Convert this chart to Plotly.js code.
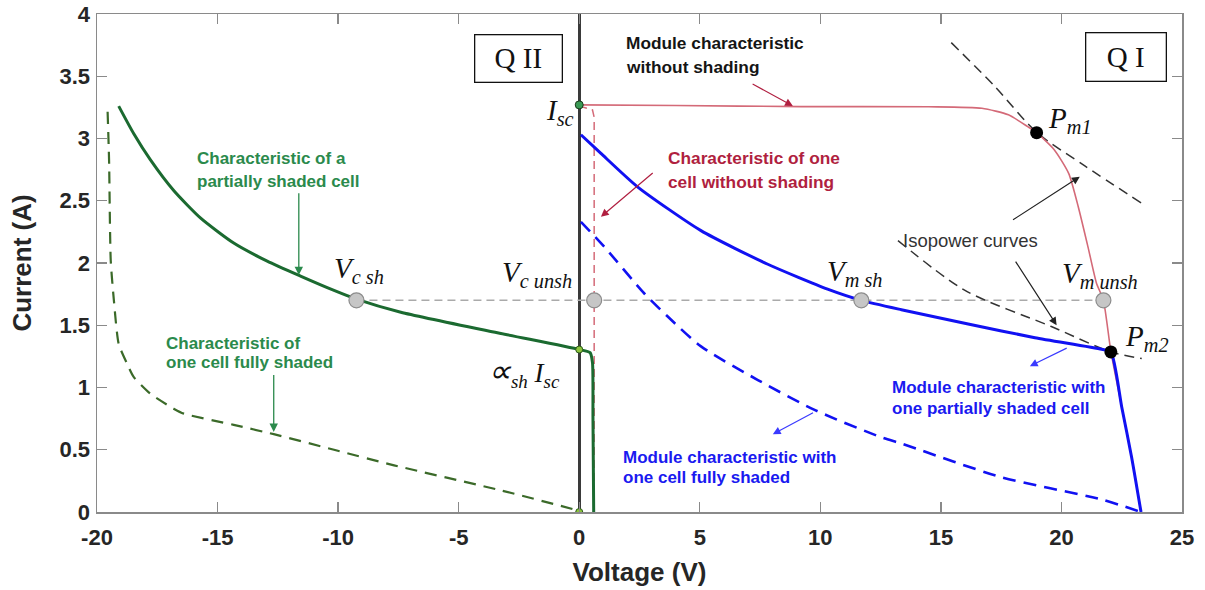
<!DOCTYPE html>
<html><head><meta charset="utf-8">
<script src="https://cdn.plot.ly/plotly-3.0.1.min.js"></script>
<style>html,body{margin:0;padding:0;background:#fff}#chart{width:1205px;height:590px}</style>
</head><body><div id="chart"></div>
<script>
// ---- tick labels ----
const xTickVals = [-20, -15, -10, -5, 0, 5, 10, 15, 20, 25];
const xTickText = ['-20', '-15', '-10', '-5', '0', '5', '10', '15', '20', '25'];
const yTickVals = [0, 0.5, 1, 1.5, 2, 2.5, 3, 3.5, 4];
const yTickText = ['0', '0.5', '1', '1.5', '2', '2.5', '3', '3.5', '4'];

// ---- module characteristic without shading (red) ----
const moduleUnshadedV = [0, 4, 9.2, 14.5, 16.7, 17.8, 18.6, 18.97, 19.7, 20.3, 20.7, 21.1, 21.45, 21.74, 22.05, 22.5, 22.91, 23.3];
const moduleUnshadedI = [3.27, 3.265, 3.256, 3.255, 3.243, 3.19, 3.095, 3.047, 2.91, 2.72, 2.45, 2.13, 1.84, 1.70, 1.29, 0.844, 0.44, 0];

// ---- one cell without shading (red dashed) ----
const cellUnshadedV = [0, 0.55, 0.62, 0.62];
const cellUnshadedI = [3.26, 3.23, 3.17, 0];

// ---- partially shaded cell (green solid) ----
const cellPartialV = [-19.1, -18.48, -17.79, -16.81, -15.7, -14.33, -12.94, -11.56, -10.17, -9.24, -7.4, -3.25, 0, 0.45, 0.55, 0.57, 0.6];
const cellPartialI = [3.26, 3.04, 2.83, 2.58, 2.36, 2.16, 2.015, 1.895, 1.78, 1.71, 1.605, 1.434, 1.305, 1.28, 1.2, 0.76, 0];

// ---- fully shaded cell (green dashed) ----
const cellFullV = [-19.56, -19.5, -19.43, -19.3, -19.1, -18.75, -18.48, -17.79, -16.82, -16.4, -14.33, -12.67, -10.17, -7.68, -3.25, 0];
const cellFullI = [3.215, 2.83, 2.02, 1.70, 1.35, 1.19, 1.085, 0.95, 0.83, 0.79, 0.70, 0.625, 0.50, 0.375, 0.174, 0.01];

// ---- module with one partially shaded cell (blue solid) ----
const modulePartialV = [0.07, 0.9, 2.43, 5.05, 7.82, 10.3, 11.7, 13.36, 16.13, 18.9, 21.67, 22.05, 22.5, 22.91, 23.3];
const modulePartialI = [3.03, 2.88, 2.61, 2.26, 1.99, 1.79, 1.70, 1.625, 1.51, 1.40, 1.307, 1.286, 0.844, 0.44, 0];

// ---- module with one cell fully shaded (blue dashed) ----
const moduleFullV = [0.07, 1.04, 2.7, 3.67, 5.05, 7.41, 9.76, 12.53, 13.36, 17.5, 21.67, 23.3];
const moduleFullI = [2.33, 2.13, 1.755, 1.57, 1.33, 1.06, 0.82, 0.60, 0.55, 0.28, 0.10, 0];

// ---- isopower curves (black dashed) ----
const isoHighV = [15.43, 17.23, 18.97, 20.97, 23.33];
const isoHighI = [3.77, 3.42, 3.05, 2.78, 2.48];
const isoLowV = [13.22, 16.0, 19.58, 22.05, 23.33];
const isoLowI = [2.18, 1.78, 1.49, 1.286, 1.233];

// ---- reference voltages at I = 1.7 A ----
const refV = [-9.24, 0.62, 11.7, 21.74];
const refI = [1.70, 1.70, 1.70, 1.70];

// ---- special points ----
const maxPowerV = [18.97, 22.05];
const maxPowerI = [3.047, 1.286];
const iscV = [0];
const iscI = [3.27];
const cellPointV = [0, 0];
const cellPointI = [1.305, 0];

const RED = '#d46a78', REDTXT = '#b01f40';
const GREEN = '#1b6a30', GREEN2 = '#3b6a29', GREENTXT = '#2b8a4c';
const BLUE = '#1111f2', BLUETXT = '#1a1af0';

const traces = [
  {x: refV, y: refI, mode: 'lines', line: {color: '#aaaaaa', width: 1.5, dash: '8px,5px'}},
  {x: isoHighV, y: isoHighI, mode: 'lines', line: {color: '#333', width: 1.5, dash: '10px,6px', shape: 'spline', smoothing: 0.8}},
  {x: isoLowV, y: isoLowI, mode: 'lines', line: {color: '#333', width: 1.5, dash: '10px,6px', shape: 'spline', smoothing: 0.8}},
  {x: cellUnshadedV, y: cellUnshadedI, mode: 'lines', line: {color: RED, width: 1.5, dash: '8px,5px'}},
  {x: moduleUnshadedV, y: moduleUnshadedI, mode: 'lines', line: {color: RED, width: 1.6, shape: 'spline', smoothing: 0.6}},
  {x: moduleFullV, y: moduleFullI, mode: 'lines', line: {color: BLUE, width: 2.6, dash: '13px,8px', shape: 'spline', smoothing: 0.7}},
  {x: cellFullV, y: cellFullI, mode: 'lines', line: {color: GREEN2, width: 2.2, dash: '12px,8px', shape: 'spline', smoothing: 0.6}},
  {x: modulePartialV, y: modulePartialI, mode: 'lines', line: {color: BLUE, width: 3, shape: 'spline', smoothing: 0.6}},
  {x: cellPartialV, y: cellPartialI, mode: 'lines', line: {color: GREEN, width: 3, shape: 'spline', smoothing: 0.6}},
  {x: refV, y: refI, mode: 'markers', marker: {size: 15, color: '#c6c6c6', line: {color: '#8c8c8c', width: 1.2}}},
  {x: maxPowerV, y: maxPowerI, mode: 'markers', marker: {size: 13, color: '#000'}},
  {x: iscV, y: iscI, mode: 'markers', marker: {size: 8, color: '#3a9a55', line: {color: '#1a3a1a', width: 1}}},
  {x: cellPointV, y: cellPointI, mode: 'markers', marker: {size: 7, color: '#8cc43c', line: {color: '#2a5a1a', width: 1}}}
];

const SANS = 'Arial, "Liberation Sans", sans-serif';
const SERIF = '"Liberation Serif", "Times New Roman", serif';
const bold = (size, color) => ({family: SANS, size: size, color: color, weight: 700});
const serif = (size) => ({family: SERIF, size: size, color: '#111', style: 'italic'});

function txt(x, y, text, font, xanchor) {
  return {x: x, y: y, xref: 'x', yref: 'y', text: text, showarrow: false, font: font, xanchor: xanchor || 'left', yanchor: 'middle', align: 'left'};
}
function arrow(ax, ay, x, y, color, w) {
  return {x: x, y: y, ax: ax, ay: ay, xref: 'x', yref: 'y', axref: 'x', ayref: 'y', text: '', showarrow: true,
          arrowhead: 2, arrowsize: 1.3, arrowwidth: w || 1.2, arrowcolor: color, standoff: 0, startstandoff: 0};
}

const annotations = [
  // text labels
  txt(1.85, 3.764, 'Module characteristic', bold(17.3, '#151515')),
  txt(1.85, 3.577, 'without shading', bold(17.3, '#151515')),
  txt(3.60, 2.841, 'Characteristic of one', bold(17.3, REDTXT)),
  txt(3.60, 2.653, 'cell without shading', bold(17.3, REDTXT)),
  txt(-15.92, 2.841, 'Characteristic of a', bold(17, GREENTXT)),
  txt(-15.92, 2.653, 'partially shaded cell', bold(17, GREENTXT)),
  txt(-17.23, 1.354, 'Characteristic of', bold(17, GREENTXT)),
  txt(-17.23, 1.198, 'one cell fully shaded', bold(17, GREENTXT)),
  txt(12.87, 1.0, 'Module characteristic with', bold(17, BLUETXT)),
  txt(12.87, 0.831, 'one partially shaded cell', bold(17, BLUETXT)),
  txt(1.73, 0.437, 'Module characteristic with', bold(17, BLUETXT)),
  txt(1.73, 0.281, 'one cell fully shaded', bold(17, BLUETXT)),
  txt(13.36, 2.184, 'Isopower curves', {family: SANS, size: 18.5, color: '#333'}),
  // math labels
  txt(-0.15, 3.21, '<i>I</i><sub><i>sc</i></sub>', serif(29), 'right'),
  txt(-10.24, 1.94, '<i>V</i><sub><i>c sh</i></sub>', serif(29)),
  txt(-0.2, 1.91, '<i>V</i><sub><i>c unsh</i></sub>', serif(29), 'right'),
  txt(10.2, 1.92, '<i>V</i><sub><i>m sh</i></sub>', serif(29)),
  txt(19.95, 1.90, '<i>V</i><sub><i>m unsh</i></sub>', serif(29)),
  txt(19.35, 3.15, '<i>P</i><sub><i>m</i>1</sub>', serif(29)),
  txt(22.55, 1.40, '<i>P</i><sub><i>m</i>2</sub>', serif(29)),
  txt(-3.85, 1.12, '<span style="font-size:32px">∝</span><sub><i>sh</i></sub> <i>I</i><sub><i>sc</i></sub>', serif(27)),
  // quadrant boxes
  {x: -2.50, y: 3.643, xref: 'x', yref: 'y', text: 'Q II', showarrow: false, width: 86, height: 46,
   bordercolor: '#111', borderwidth: 1.3, borderpad: 0, bgcolor: '#fff',
   font: {family: SERIF, size: 29, color: '#111'}},
  {x: 22.67, y: 3.655, xref: 'x', yref: 'y', text: 'Q I', showarrow: false, width: 79, height: 47,
   bordercolor: '#111', borderwidth: 1.3, borderpad: 0, bgcolor: '#fff',
   font: {family: SERIF, size: 29, color: '#111'}},
  // arrows
  arrow(7.13, 3.444, 8.86, 3.261, REDTXT, 1.2),
  arrow(3.11, 2.733, 0.90, 2.371, REDTXT, 1.2),
  arrow(-11.63, 2.572, -11.63, 1.903, GREENTXT, 1.3),
  arrow(-12.67, 1.113, -12.67, 0.643, GREENTXT, 1.3),
  arrow(20.28, 1.322, 18.69, 1.171, '#3a3aff', 1.2),
  arrow(9.76, 0.804, 8.03, 0.625, '#3a3aff', 1.2),
  arrow(17.93, 2.339, 20.76, 2.693, '#222', 1.2),
  arrow(18.06, 2.023, 19.80, 1.501, '#222', 1.2)
];

const axisCommon = {
  showline: true, linecolor: '#8a8a8a', linewidth: 1.5, mirror: 'ticks',
  ticks: 'inside', ticklen: 10, tickcolor: '#8a8a8a', tickwidth: 1.3,
  showgrid: false, tickmode: 'array',
  tickfont: {family: SANS, size: 22, color: '#262626', weight: 700}
};

const layout = {
  width: 1205, height: 590,
  margin: {l: 97, r: 23, t: 14, b: 78},
  paper_bgcolor: '#fff', plot_bgcolor: '#fff',
  showlegend: false,
  xaxis: Object.assign({}, axisCommon, {
    range: [-20, 25], tickvals: xTickVals, ticktext: xTickText,
    ticklabelstandoff: 5,
    zeroline: true, zerolinecolor: '#3a3a3a', zerolinewidth: 3,
    title: {text: 'Voltage (V)', standoff: 14, font: {family: SANS, size: 26, color: '#262626', weight: 700}}
  }),
  yaxis: Object.assign({}, axisCommon, {
    range: [0, 4], tickvals: yTickVals, ticktext: yTickText, zeroline: false,
    ticklabelstandoff: 1,
    title: {text: 'Current (A)', standoff: 20, font: {family: SANS, size: 26, color: '#262626', weight: 700}}
  }),
  annotations: annotations
};

Plotly.newPlot('chart', traces, layout, {displayModeBar: false, staticPlot: true});
</script>
</body></html>
